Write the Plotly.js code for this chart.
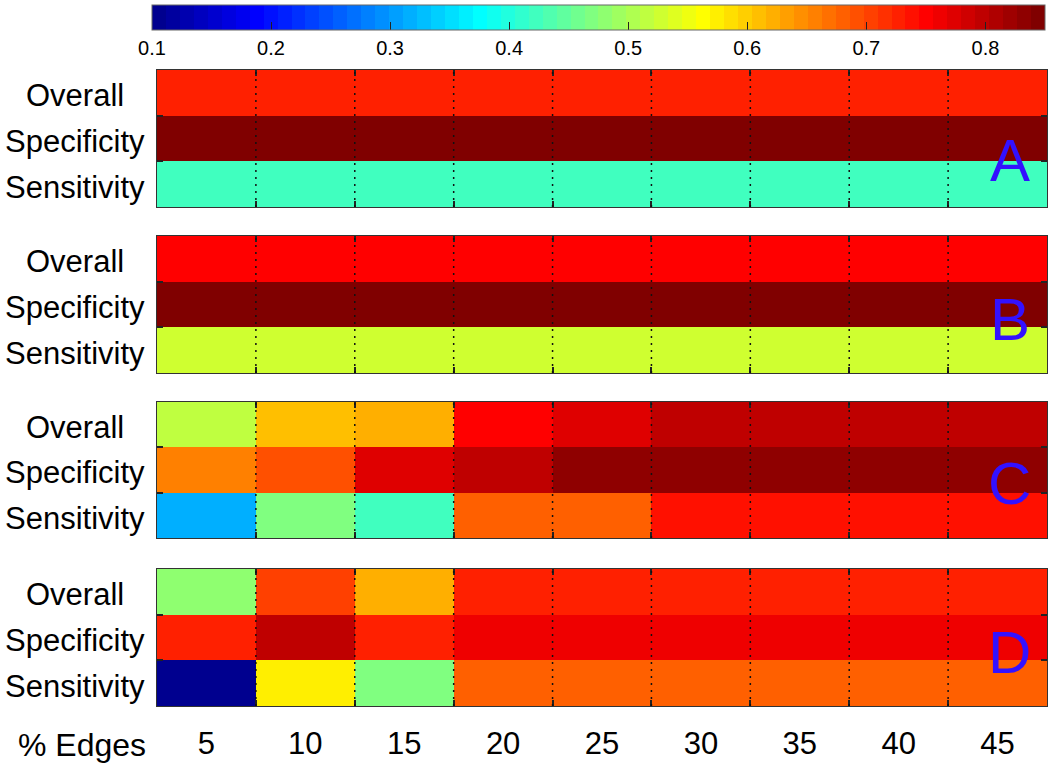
<!DOCTYPE html>
<html><head><meta charset="utf-8">
<script src="https://cdn.plot.ly/plotly-3.0.1.min.js"></script>
<style>body{margin:0;background:#fff}#chart{width:1050px;height:764px}</style>
</head><body><div id="chart"></div>
<script>
// ---- data ----
const edges = [5, 10, 15, 20, 25, 30, 35, 40, 45];
const metrics = ['Overall', 'Specificity', 'Sensitivity'];
const panelLabels = ['A', 'B', 'C', 'D'];
const colorTicks = [0.1, 0.2, 0.3, 0.4, 0.5, 0.6, 0.7, 0.8];
const colorMin = 0.1, colorMax = 0.85;
const edgesTitle = '% Edges';

const aOverall     = [0.727, 0.727, 0.727, 0.727, 0.727, 0.727, 0.727, 0.727, 0.727];
const aSpecificity = [0.844, 0.844, 0.844, 0.844, 0.844, 0.844, 0.844, 0.844, 0.844];
const aSensitivity = [0.422, 0.422, 0.422, 0.422, 0.422, 0.422, 0.422, 0.422, 0.422];

const bOverall     = [0.750, 0.750, 0.750, 0.750, 0.750, 0.750, 0.750, 0.750, 0.750];
const bSpecificity = [0.844, 0.844, 0.844, 0.844, 0.844, 0.844, 0.844, 0.844, 0.844];
const bSensitivity = [0.528, 0.528, 0.528, 0.528, 0.528, 0.528, 0.528, 0.528, 0.528];

const cOverall     = [0.516, 0.610, 0.621, 0.750, 0.774, 0.797, 0.797, 0.797, 0.797];
const cSpecificity = [0.657, 0.692, 0.774, 0.797, 0.832, 0.832, 0.832, 0.832, 0.832];
const cSensitivity = [0.317, 0.469, 0.422, 0.680, 0.680, 0.739, 0.739, 0.739, 0.739];

const dOverall     = [0.481, 0.703, 0.621, 0.727, 0.727, 0.727, 0.727, 0.727, 0.727];
const dSpecificity = [0.727, 0.797, 0.727, 0.762, 0.762, 0.762, 0.762, 0.762, 0.762];
const dSensitivity = [0.105, 0.575, 0.469, 0.680, 0.680, 0.680, 0.680, 0.680, 0.680];

const panels = [
  [aOverall, aSpecificity, aSensitivity],
  [bOverall, bSpecificity, bSensitivity],
  [cOverall, cSpecificity, cSensitivity],
  [dOverall, dSpecificity, dSensitivity]
];

// ---- MATLAB jet(64) stepped colorscale ----
function jet(n) {
  const m = Math.ceil(n / 4), u = [];
  for (let k = 1; k <= m; k++) u.push(k / m);
  for (let k = 0; k < m - 1; k++) u.push(1);
  for (let k = m; k >= 1; k--) u.push(k / m);
  const g0 = Math.ceil(m / 2) - ((n % 4) === 1 ? 1 : 0);
  const R = new Array(n).fill(0), G = new Array(n).fill(0), B = new Array(n).fill(0);
  u.forEach((v, k) => {
    const gi = g0 + k, ri = gi + m, bi = gi - m;
    if (gi >= 0 && gi < n) G[gi] = v;
    if (ri >= 0 && ri < n) R[ri] = v;
    if (bi >= 0 && bi < n) B[bi] = v;
  });
  const out = [];
  for (let i = 0; i < n; i++) out.push(`rgb(${Math.round(R[i]*255)},${Math.round(G[i]*255)},${Math.round(B[i]*255)})`);
  return out;
}
const jetColors = jet(64);
const colorscale = [];
jetColors.forEach((c, k) => {
  colorscale.push([k / 64, c]);
  colorscale.push([(k + 1) / 64, c]);
});

// ---- layout helpers ----
const FONT = 'Liberation Sans, Arial, Helvetica, sans-serif';
const step = edges[1] - edges[0];
const bounds = edges.slice(0, -1).map((e, i) => (e + edges[i + 1]) / 2);
const xRange = [edges[0] - step / 2, edges[edges.length - 1] + step / 2];
const rowIdx = metrics.map((m, i) => i);
const rowBounds = rowIdx.slice(0, -1).map(i => i + 0.5);
const yDomains = [[0.7846, 1], [0.5236, 0.739], [0.2642, 0.478], [0, 0.2154]];
const letterY = [0.343, 0.387, 0.397, 0.387];

const data = [];
const layout = {
  width: 1050, height: 764,
  margin: {l: 157, r: 3, t: 70, b: 58},
  paper_bgcolor: '#fff', plot_bgcolor: '#fff',
  font: {family: FONT, size: 31, color: '#000'},
  showlegend: false,
  shapes: [], annotations: []
};

panels.forEach((rows, p) => {
  const s = p === 0 ? '' : String(p + 1);
  const tr = {
    type: 'heatmap',
    x: edges, y: rowIdx, z: rows,
    xaxis: 'x' + s, yaxis: 'y' + s,
    zmin: colorMin, zmax: colorMax,
    colorscale: colorscale, zsmooth: false,
    showscale: p === 0, hoverinfo: 'x+y+z'
  };
  if (p === 0) {
    tr.colorbar = {
      orientation: 'h',
      x: 0.496, xanchor: 'center', y: 1.1022, yanchor: 'top',
      len: 893, lenmode: 'pixels', thickness: 25, thicknessmode: 'pixels',
      xpad: 0, ypad: 0,
      outlinecolor: '#666', outlinewidth: 1,
      tickmode: 'array', tickvals: colorTicks, ticktext: colorTicks.map(v => v.toFixed(1)),
      ticks: 'inside', ticklen: 8, tickcolor: '#222', tickwidth: 1,
      tickfont: {family: FONT, size: 20, color: '#000'}
    };
  }
  data.push(tr);

  layout['xaxis' + s] = {
    anchor: 'y' + s, domain: [0, 1], range: xRange,
    tickmode: 'array', tickvals: edges, ticktext: edges.map(String),
    showticklabels: p === panels.length - 1, ticks: '',
    ticklabelstandoff: 10,
    minor: {tickmode: 'array', tickvals: bounds, ticks: 'inside', ticklen: 6, tickwidth: 2, tickcolor: '#222', showgrid: false},
    showgrid: false, zeroline: false,
    showline: true, linecolor: '#333', linewidth: 1, mirror: 'ticks',
    layer: 'above traces',
    tickfont: {family: FONT, size: 31, color: '#000'}
  };
  layout['yaxis' + s] = {
    anchor: 'x' + s, domain: yDomains[p], range: [rowIdx.length - 0.5, -0.5],
    tickmode: 'array', tickvals: rowIdx,
    showticklabels: false, ticks: '',
    minor: {tickmode: 'array', tickvals: rowBounds, ticks: 'inside', ticklen: 6, tickwidth: 2, tickcolor: '#222', showgrid: false},
    showgrid: false, zeroline: false,
    showline: true, linecolor: '#333', linewidth: 1, mirror: 'ticks',
    layer: 'above traces'
  };

  // row labels, centred in the left margin
  metrics.forEach((m, i) => {
    layout.annotations.push({
      text: m, showarrow: false,
      xref: 'paper', yref: 'y' + s, x: -0.0921, y: rowIdx[i],
      xanchor: 'center', yanchor: 'middle', yshift: -3,
      font: {family: FONT, size: 31, color: '#000'}
    });
  });

  bounds.forEach(b => {
    layout.shapes.push({
      type: 'line', xref: 'x' + s, yref: 'y' + s + ' domain',
      x0: b, x1: b, y0: 0, y1: 1, layer: 'above',
      line: {color: '#111', width: 1.5, dash: '2px,5px'}
    });
  });

  layout.annotations.push({
    text: panelLabels[p], showarrow: false,
    xref: 'x' + s + ' domain', yref: 'y' + s + ' domain',
    x: 0.958, y: letterY[p], xanchor: 'center', yanchor: 'middle',
    font: {family: FONT, size: 60, color: '#3311ff'}
  });
});

layout.annotations.push({
  text: edgesTitle, showarrow: false,
  xref: 'paper', yref: 'paper', x: -0.0843, y: -0.061,
  xanchor: 'center', yanchor: 'middle',
  font: {family: FONT, size: 32, color: '#000'}
});

Plotly.newPlot('chart', data, layout, {displayModeBar: false, staticPlot: true});
</script>
</body></html>
